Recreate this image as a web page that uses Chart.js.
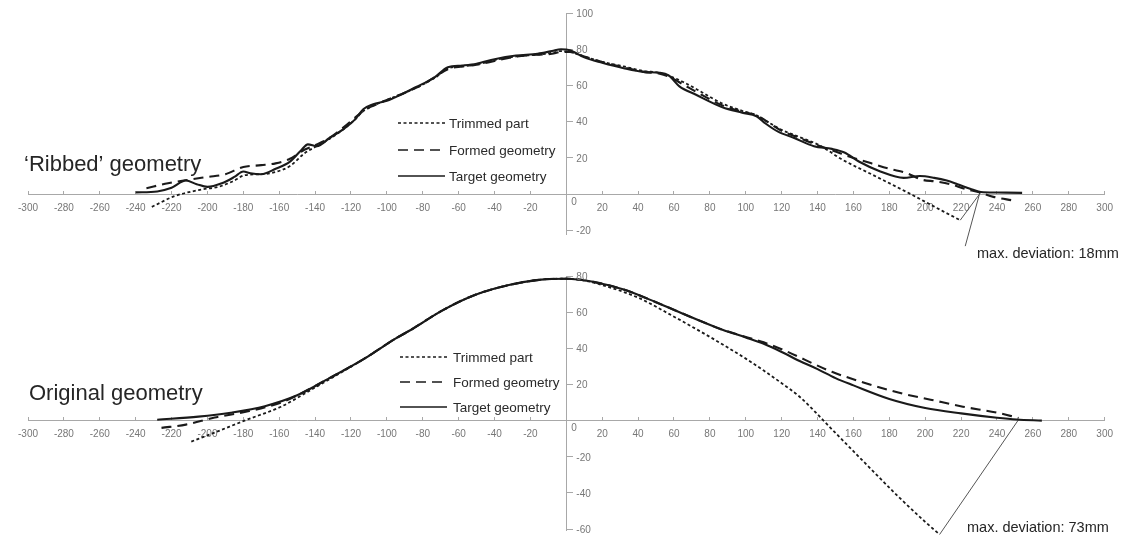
<!DOCTYPE html>
<html>
<head>
<meta charset="utf-8">
<script src="https://cdn.jsdelivr.net/npm/chart.js@4.4.1/dist/chart.umd.min.js"></script>
<style>
body{margin:0;background:#fff;width:1125px;height:541px;position:relative;overflow:hidden}
.box{position:absolute;left:0;width:1125px}
#top{top:0;height:270px}
#bot{top:230px;height:311px}
</style>
</head>
<body>
<div class="box" id="top"><canvas id="c1"></canvas></div>
<div class="box" id="bot"><canvas id="c2"></canvas></div>
<script>
// ticks
var xTicks = [-300,-280,-260,-240,-220,-200,-180,-160,-140,-120,-100,-80,-60,-40,-20,0,20,40,60,80,100,120,140,160,180,200,220,240,260,280,300];
var yTicksTop = [-20,0,20,40,60,80,100];
var yTicksBot = [-60,-40,-20,0,20,40,60,80];

// 'Ribbed' geometry
var ribTargetX = [-240,-228,-220,-212,-206,-200,-192,-185,-180,-176,-170,-162,-154,-148,-144,-139,-132,-124,-118,-113,-108,-100,-92,-84,-74,-66,-58,-50,-40,-28,-16,-8,-3,2,10,20,32,43,52,57,63,72,87,98,106,111,118,127,138,148,155,163,175,188,197,205,212,218,225,231,240,254];
var ribTargetY = [1,1.5,3.5,7.5,5.5,4,6,9.5,12.5,11.5,11,14,18,24,27.5,26.5,31,36,41,47,49.5,51.5,55,59,64,70,71,72,74.5,76.5,77.5,79,80,79.5,75.5,72.5,69.5,67.5,67,65.5,59.5,55,48,45,43,39,34.5,31,26.5,25,23,18,12.5,9,10,9,7.5,5.5,3,1.2,0.9,0.7];
var ribFormedX = [-234,-222,-210,-200,-190,-180,-170,-162,-154,-146,-140,-132,-124,-118,-113,-106,-100,-90,-80,-72,-66,-58,-50,-40,-28,-16,-8,-3,2,10,20,32,43,52,58,66,76,87,98,106,112,120,130,140,150,160,170,180,190,198,206,214,222,230,238,249];
var ribFormedY = [3.3,6,8,9.5,11,15,16,17,19.5,24.5,27,31,37,42,46,49.5,52,56,60.5,65.5,69,70.5,71.5,73.5,76,77,77.5,78.5,78.5,76,73,70,67.5,66.5,64.5,60,54.5,49,45.5,43.5,40,35,31,27,23.5,20,17,14,11.5,8,7,5.5,3,1,-1.5,-3.5];
var ribTrimX = [-231,-218,-203,-194,-186,-179,-170,-163,-154,-146,-140,-132,-124,-118,-113,-106,-100,-90,-80,-72,-66,-58,-50,-40,-28,-16,-8,-3,2,10,20,32,43,52,58,66,76,87,98,106,112,120,130,140,146,153,170,190,210,219.5];
var ribTrimY = [-7,-1,2.6,4,7,10.5,11,12,15.5,22.5,26,30.5,36,41,46,49.5,52,56,60.5,65,69.5,70.5,71.5,74,76,77,78,79,78.5,76,73,70.5,68,67,65,61.5,56,50,46,43.5,40,35.5,31.5,27.5,24,19.5,11,1,-9.5,-14.4];
var ribDevX = [219.5,231];
var ribDevY = [-14.4,1];
var ribLeadX = [222.3,230.5];
var ribLeadY = [-28.7,1];

// Original geometry
var orgTargetX = [-228,-205,-187,-168,-150,-132,-113,-95,-87,-69,-51,-32,-14,0,14,32,50,69,87,100,110,120,130,140,150,160,180,200,220,240,251,265];
var orgTargetY = [0.5,2.2,4.4,8,14,23.5,34,45.5,50,61,69.5,75,78,78.5,77,72.5,65.5,57.5,50.3,46,42.5,38,33,28.5,23.5,19.5,12,7,4,1.6,0.6,0];
var orgFormedX = [-225.6,-212,-196,-178,-159,-150,-132,-113,-95,-87,-69,-51,-32,-14,0,14,32,50,69,87,100,110,120,148,166,185,203,221,240,252];
var orgFormedY = [-4,-2.2,1.7,5,10,14,23.5,34,45.5,50,61,69.5,75,78,78.5,77,72.5,65.5,57.5,50.3,46.3,43.3,39.5,27,21,15.5,11.6,7.7,4.4,1.5];
var orgTrimX = [-209,-196,-178,-159,-140.6,-130,-113,-95,-87,-69,-51,-32,-14,0,10,20,40,60,80,90,100,110,120,130,148,166,185,200,208];
var orgTrimY = [-11.6,-6.6,0.5,7.7,18,24,34,45.5,50,61,69.5,75,78,78.5,77.5,75,68,57.5,46.3,40.4,34.3,27.7,20.7,13.2,-4.8,-23,-42,-56,-63];
var orgDevX = [208,252];
var orgDevY = [-63,0.5];

function pts(xs, ys){
    var out = [];
    for(var i in xs){
        out.push({x: xs[i], y: ys[i]});
    }
    return out;
}

var FONT = '"Liberation Sans", Arial, sans-serif';
var INK = '#1a1a1a';

function series(label, xs, ys, dash, width){
    return {
        label: label,
        data: pts(xs, ys),
        borderColor: INK,
        borderWidth: width,
        borderDash: dash,
        pointRadius: 0,
        cubicInterpolationMode: 'monotone',
        fill: false,
        clip: false
    };
}
function thin(xs, ys){
    return {
        label: '',
        data: pts(xs, ys),
        borderColor: '#555',
        borderWidth: 1,
        pointRadius: 0,
        tension: 0,
        clip: false
    };
}

// draws y labels, legend and the text notes
var extras = {
    id: 'extras',
    afterDraw: function(chart, args, o){
        var ctx = chart.ctx;
        var ys = chart.scales.y;
        var x0 = chart.scales.x.getPixelForValue(0);
        ctx.save();
        ctx.font = '10px ' + FONT;
        ctx.fillStyle = '#777';
        ctx.textBaseline = 'middle';
        ctx.textAlign = 'left';
        o.yTicks.forEach(function(v){
            var py = ys.getPixelForValue(v);
            if(v === 0) ctx.fillText('0', x0 + 5, py + 8);
            else ctx.fillText(String(v), x0 + 10, py + 1);
        });

        var ds = chart.data.datasets;
        for(var k = 0; k < 3; k++){
            var d = ds[k];
            var ly = o.legend.y[k];
            ctx.beginPath();
            ctx.setLineDash(d.borderDash);
            ctx.lineWidth = d.borderWidth * 0.8;
            ctx.strokeStyle = INK;
            ctx.moveTo(o.legend.x, ly);
            ctx.lineTo(o.legend.x + 47, ly);
            ctx.stroke();
            ctx.setLineDash([]);
            ctx.font = '13.5px ' + FONT;
            ctx.fillStyle = '#2a2a2a';
            ctx.fillText(d.label, o.legend.tx, ly + 1);
        }

        ctx.textBaseline = 'alphabetic';
        o.notes.forEach(function(n){
            ctx.font = n.size + 'px ' + FONT;
            ctx.fillStyle = '#262626';
            ctx.fillText(n.text, n.x, n.y);
        });
        ctx.restore();
    }
};

function axes(yMin, yMax, yTicks){
    return {
        x: {
            type: 'linear', min: -300, max: 300,
            position: {y: 0},
            afterFit: function(s){ s.height = 0; },
            afterBuildTicks: function(s){ s.ticks = xTicks.map(function(v){ return {value: v}; }); },
            grid: {drawOnChartArea: false, tickLength: -4, color: '#a8a8a8'},
            border: {color: '#a8a8a8', width: 1},
            ticks: {
                font: {size: 10, family: FONT}, color: '#777', padding: 12,
                maxRotation: 0, autoSkip: false,
                callback: function(v){ return v === 0 ? '' : v; }
            }
        },
        y: {
            type: 'linear', min: yMin, max: yMax,
            position: {x: 0},
            afterFit: function(s){ s.width = 0; },
            afterBuildTicks: function(s){ s.ticks = yTicks.map(function(v){ return {value: v}; }); },
            grid: {drawOnChartArea: false, tickLength: -7, color: '#a8a8a8'},
            border: {color: '#a8a8a8', width: 1},
            ticks: {display: false}
        }
    };
}

var common = {
    responsive: true,
    maintainAspectRatio: false,
    animation: false,
    events: []
};

new Chart(document.getElementById('c1'), {
    type: 'line',
    data: {
        datasets: [
            series('Trimmed part', ribTrimX, ribTrimY, [3, 2.5], 1.8),
            series('Formed geometry', ribFormedX, ribFormedY, [10, 6], 2.1),
            series('Target geometry', ribTargetX, ribTargetY, [], 2.1),
            thin(ribDevX, ribDevY),
            thin(ribLeadX, ribLeadY)
        ]
    },
    options: Object.assign({}, common, {
        layout: {padding: {left: 28, right: 9, top: 13, bottom: 36}},
        scales: axes(-22, 100, yTicksTop),
        plugins: {
            legend: {display: false},
            tooltip: {enabled: false},
            extras: {
                yTicks: yTicksTop,
                legend: {x: 398, tx: 449, y: [123, 150, 176]},
                notes: [
                    {text: '\u2018Ribbed\u2019 geometry', x: 24, y: 171, size: 22},
                    {text: 'max. deviation: 18mm', x: 977, y: 258, size: 14.5}
                ]
            }
        }
    }),
    plugins: [extras]
});

new Chart(document.getElementById('c2'), {
    type: 'line',
    data: {
        datasets: [
            series('Trimmed part', orgTrimX, orgTrimY, [3, 2.5], 1.8),
            series('Formed geometry', orgFormedX, orgFormedY, [10, 6], 2.1),
            series('Target geometry', orgTargetX, orgTargetY, [], 2.1),
            thin(orgDevX, orgDevY)
        ]
    },
    options: Object.assign({}, common, {
        layout: {padding: {left: 28, right: 9, top: 46, bottom: 11}},
        scales: axes(-60.5, 80, yTicksBot),
        plugins: {
            legend: {display: false},
            tooltip: {enabled: false},
            extras: {
                yTicks: yTicksBot,
                legend: {x: 400, tx: 453, y: [127, 152, 177]},
                notes: [
                    {text: 'Original geometry', x: 29, y: 170, size: 22},
                    {text: 'max. deviation: 73mm', x: 967, y: 302, size: 14.5}
                ]
            }
        }
    }),
    plugins: [extras]
});
</script>
</body>
</html>
